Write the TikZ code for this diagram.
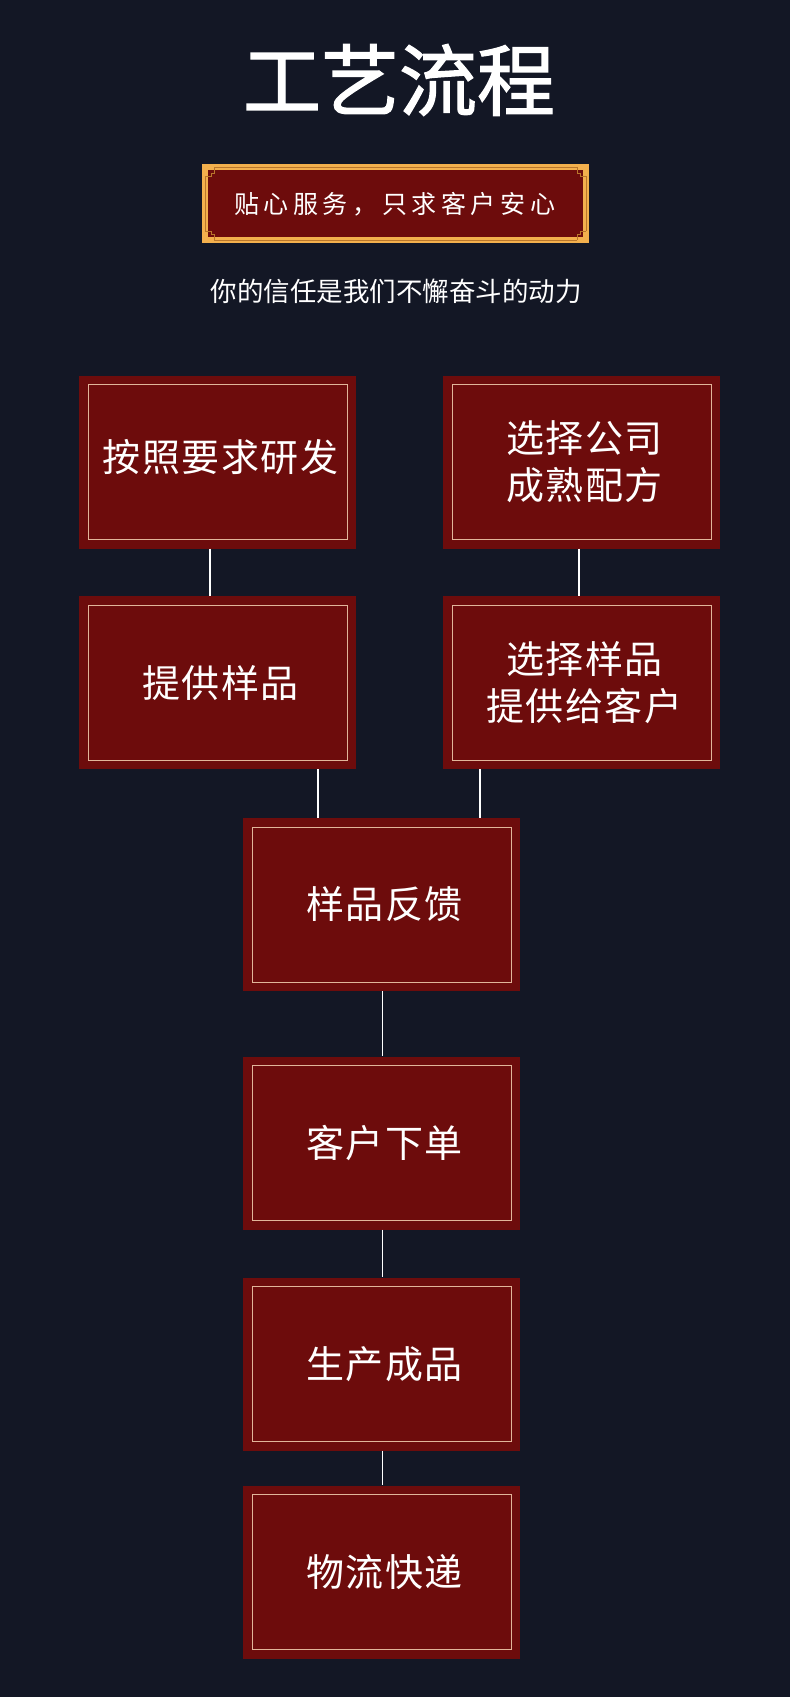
\documentclass[tikz,border=0pt]{standalone}
\usepackage{fontspec}
\newfontfamily\cjk{Noto Sans CJK SC}
\newfontfamily\cjkt[FakeBold=1.6]{Noto Sans CJK SC}
\definecolor{bg}{HTML}{131725}
\definecolor{boxred}{HTML}{6D0C0C}
\definecolor{innerline}{HTML}{E2B59A}
\definecolor{gold}{HTML}{F3B04D}
\definecolor{golddark}{HTML}{B9762B}
\newcommand\bk{\kern4.6pt}
\newcommand\gk{\kern1.5pt}
\tikzset{
  stepbox/.style={fill=boxred, minimum width=277pt, minimum height=173pt, inner sep=0pt,
    path picture={\draw[innerline, line width=1pt]
      ([shift={(9pt,9pt)}]path picture bounding box.south west) rectangle
      ([shift={(-9pt,-9pt)}]path picture bounding box.north east);}},
  steptext/.style={text=white, align=center, inner sep=0pt, font=\cjk\fontsize{38}{47}\selectfont},
  link/.style={draw=white, line width=1.6pt},
  goldline/.style={draw=golddark, line width=0.8pt}
}
\begin{document}
\begin{tikzpicture}[x=1pt,y=-1pt]
\useasboundingbox[fill=bg] (0,0) rectangle (790,1697);
% title
\node[text=white, font=\cjkt\fontsize{78}{78}\selectfont] (title) at (399,80) {工艺流程};
% badge
\fill[gold] (202,164) rectangle (589,243);
\fill[boxred] (208,170) rectangle (583,237);
\draw[goldline] (214,167) -- (577,167) (214,240) -- (577,240)
  (205,176) -- (205,231) (586,176) -- (586,231);
\draw[goldline] (205,176) -- (211,176) -- (211,173) -- (214,173) -- (214,167)
  (586,176) -- (580,176) -- (580,173) -- (577,173) -- (577,167)
  (205,231) -- (211,231) -- (211,234) -- (214,234) -- (214,240)
  (586,231) -- (580,231) -- (580,234) -- (577,234) -- (577,240);
\node[text=white, font=\cjk\fontsize{25}{25}\selectfont] (badge) at (394.5,204)
  {贴\bk 心\bk 服\bk 务\bk ，\bk 只\bk 求\bk 客\bk 户\bk 安\bk 心};
% subtitle
\node[text=white, font=\cjk\fontsize{26.5}{26.5}\selectfont] (sub) at (396,291) {你的信任是我们不懈奋斗的动力};
% boxes
\node[stepbox] (b1) at (217.5,462) {};
\node[stepbox] (b2) at (581.5,462) {};
\node[stepbox] (b3) at (217.5,682.5) {};
\node[stepbox] (b4) at (581.5,682.5) {};
\node[stepbox] (b5) at (381.5,904.5) {};
\node[stepbox] (b6) at (381.5,1143) {};
\node[stepbox] (b7) at (381.5,1364) {};
\node[stepbox] (b8) at (381.5,1572) {};
\node[steptext] (t1) at ([xshift=3pt,yshift=5pt]b1.center) {按\gk 照\gk 要\gk 求\gk 研\gk 发};
\node[steptext] (t2) at ([xshift=3pt]b2.center) {选\gk 择\gk 公\gk 司\\成\gk 熟\gk 配\gk 方};
\node[steptext] (t3) at ([xshift=3pt]b3.center) {提\gk 供\gk 样\gk 品};
\node[steptext] (t4) at ([xshift=3pt]b4.center) {选\gk 择\gk 样\gk 品\\提\gk 供\gk 给\gk 客\gk 户};
\node[steptext] (t5) at ([xshift=3pt]b5.center) {样\gk 品\gk 反\gk 馈};
\node[steptext] (t6) at ([xshift=3pt]b6.center) {客\gk 户\gk 下\gk 单};
\node[steptext] (t7) at ([xshift=3pt]b7.center) {生\gk 产\gk 成\gk 品};
\node[steptext] (t8) at ([xshift=3pt]b8.center) {物\gk 流\gk 快\gk 递};
% connectors
\draw[link] ([xshift=-7.5pt]b1.south) -- ([xshift=-7.5pt]b3.north);
\draw[link] ([xshift=-2.5pt]b2.south) -- ([xshift=-2.5pt]b4.north);
\draw[link] ([xshift=100.5pt]b3.south) -- ([xshift=100.5pt]b3.south |- b5.north);
\draw[link] ([xshift=-101.5pt]b4.south) -- ([xshift=-101.5pt]b4.south |- b5.north);
\draw[link] ([xshift=1pt]b5.south) -- ([xshift=1pt]b6.north);
\draw[link] ([xshift=1pt]b6.south) -- ([xshift=1pt]b7.north);
\draw[link] ([xshift=1pt]b7.south) -- ([xshift=1pt]b8.north);
\end{tikzpicture}
\end{document}
